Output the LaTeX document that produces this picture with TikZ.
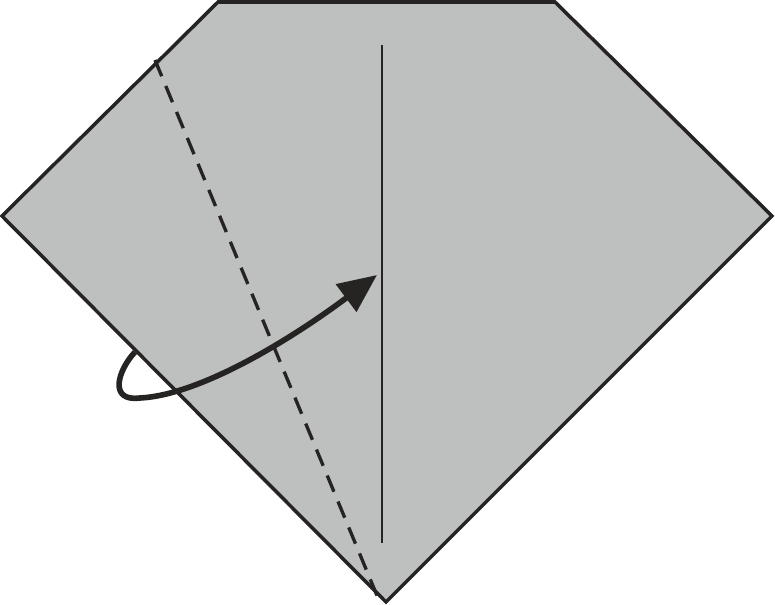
\documentclass[tikz,border=0pt]{standalone}
\usetikzlibrary{arrows.meta}
\definecolor{paper}{RGB}{190,192,191}
\definecolor{ink}{RGB}{38,36,34}
\tikzstyle{edge} = [draw=ink, line width=2pt, line join=miter]
\tikzstyle{valley} = [ink, line width=1.9pt, dash pattern=on 10pt off 6pt]
\tikzstyle{crease} = [ink, line width=0.7pt]
\tikzstyle{arrow} = [ink, line width=3.2pt, -{Triangle[length=22pt,width=19pt]}]

\begin{document}
\begin{tikzpicture}[x=0.02cm, y=-0.02cm]
		\useasboundingbox (0,0) rectangle (775,605);

		\coordinate (left) at (2,216);
		\coordinate (topleft) at (218,2);
		\coordinate (topright) at (555,2);
		\coordinate (right) at (772,216);
		\coordinate (bottom) at (386,602);

		\filldraw[fill=paper, edge] (left) -- (topleft) -- (topright) -- (right) -- (bottom) -- cycle;
		\draw[crease] (382,45) -- (382,543);
		\draw[valley] (155,60) -- (378,598);

		\draw[arrow] (135,352) .. controls (118,370) and (108,402) .. (140,398)
			.. controls (200,395) and (290,340) .. (377,275);
	\end{tikzpicture}
\end{document}
